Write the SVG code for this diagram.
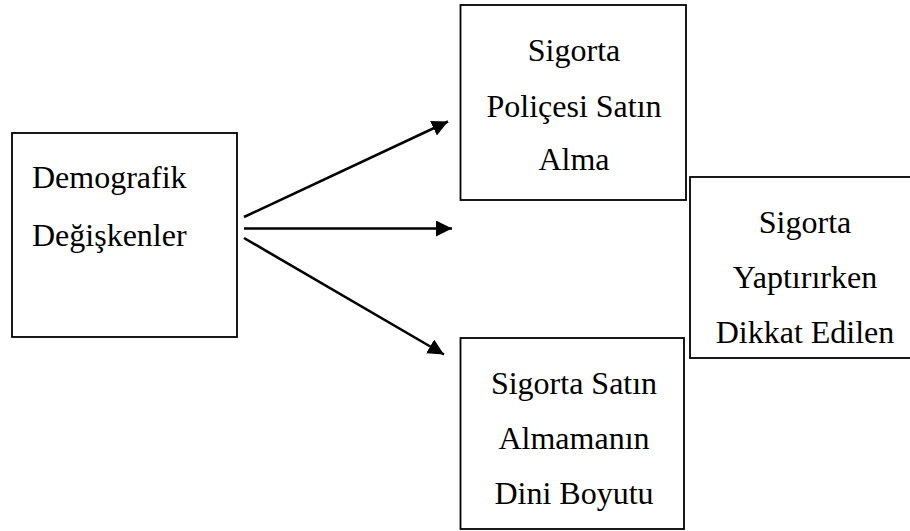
<svg xmlns="http://www.w3.org/2000/svg" width="910" height="531" viewBox="0 0 910 531">
<style>
.box{fill:#fff;stroke:#000;stroke-width:1.8}
.t{font-size:32px;fill:#000}
.c{text-anchor:middle}
.arr{stroke:#000;stroke-width:2.6;fill:none;marker-end:url(#ah)}
</style>
<defs>
<marker id="ah" markerUnits="userSpaceOnUse" markerWidth="18" markerHeight="18" refX="16" refY="8" orient="auto">
<path d="M0,0 L16,8 L0,16 z" fill="#000"/>
</marker>
</defs>
<rect width="910" height="531" fill="#fff"/>
<g id="connectors">
<line class="arr" x1="244" y1="217" x2="448" y2="121.5"/>
<line class="arr" x1="244" y1="228.5" x2="452" y2="228.5"/>
<line class="arr" x1="244" y1="238" x2="444" y2="354.5"/>
</g>
<g font-family="'Liberation Serif', 'Times New Roman', 'DejaVu Serif', serif">
<g id="demografik">
<rect class="box" x="12" y="133" width="225" height="204"/>
<text class="t" x="32" y="188">Demografik</text>
<text class="t" x="32" y="246">Değişkenler</text>
</g>
<g id="police">
<rect class="box" x="460.5" y="5" width="225.5" height="195"/>
<text class="t c" x="574" y="61">Sigorta</text>
<text class="t c" x="574" y="117">Poliçesi Satın</text>
<text class="t c" x="574" y="170">Alma</text>
</g>
<g id="dikkat">
<rect class="box" x="690" y="177" width="240" height="181"/>
<text class="t c" x="805" y="233">Sigorta</text>
<text class="t c" x="805" y="288">Yaptırırken</text>
<text class="t c" x="805" y="343">Dikkat Edilen</text>
</g>
<g id="dini">
<rect class="box" x="460.5" y="338" width="223.5" height="191"/>
<text class="t c" x="574" y="394">Sigorta Satın</text>
<text class="t c" x="574" y="449">Almamanın</text>
<text class="t c" x="574" y="504">Dini Boyutu</text>
</g>
</g>
</svg>
